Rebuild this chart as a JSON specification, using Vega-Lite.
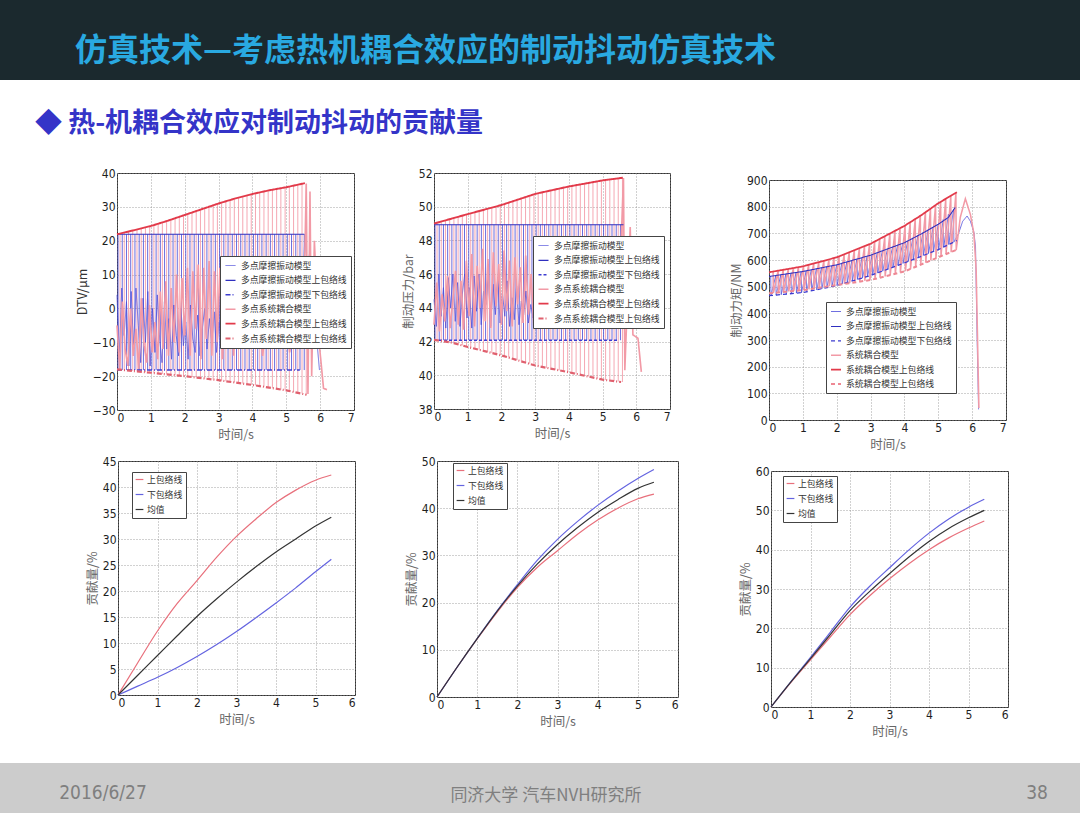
{
"$schema":"https://vega.github.io/schema/vega-lite/v6.json",
"padding":0,
"background":"white",
"bounds":"flush",
"spacing":93,
"resolve":{"scale":{"x":"independent","y":"independent","color":"independent","strokeDash":"independent","strokeWidth":"independent"},"axis":{"x":"independent","y":"independent"},"legend":{"color":"independent","strokeDash":"independent","strokeWidth":"independent"}},
"datasets":{
"s1b":[{"t":0.03,"v":-18.2,"h":21.9},{"t":0.155,"v":-18.2,"h":21.9},{"t":0.28,"v":-18.2,"h":21.9},{"t":0.405,"v":-18.2,"h":21.9},{"t":0.53,"v":-18.2,"h":21.9},{"t":0.655,"v":-18.2,"h":21.9},{"t":0.78,"v":-18.2,"h":21.9},{"t":0.905,"v":-18.2,"h":21.9},{"t":1.03,"v":-18.2,"h":21.9},{"t":1.155,"v":-18.2,"h":21.9},{"t":1.28,"v":-18.2,"h":21.9},{"t":1.405,"v":-18.2,"h":21.9},{"t":1.53,"v":-18.2,"h":21.9},{"t":1.655,"v":-18.2,"h":21.9},{"t":1.78,"v":-18.2,"h":21.9},{"t":1.905,"v":-18.2,"h":21.9},{"t":2.03,"v":-18.2,"h":21.9},{"t":2.155,"v":-18.2,"h":21.9},{"t":2.28,"v":-18.2,"h":21.9},{"t":2.405,"v":-18.2,"h":21.9},{"t":2.53,"v":-18.2,"h":21.9},{"t":2.655,"v":-18.2,"h":21.9},{"t":2.78,"v":-18.2,"h":21.9},{"t":2.905,"v":-18.2,"h":21.9},{"t":3.03,"v":-18.2,"h":21.9},{"t":3.155,"v":-18.2,"h":21.9},{"t":3.28,"v":-18.2,"h":21.9},{"t":3.405,"v":-18.2,"h":21.9},{"t":3.53,"v":-18.2,"h":21.9},{"t":3.655,"v":-18.2,"h":21.9},{"t":3.78,"v":-18.2,"h":21.9},{"t":3.905,"v":-18.2,"h":21.9},{"t":4.03,"v":-18.2,"h":21.9},{"t":4.155,"v":-18.2,"h":21.9},{"t":4.28,"v":-18.2,"h":21.9},{"t":4.405,"v":-18.2,"h":21.9},{"t":4.53,"v":-18.2,"h":21.9},{"t":4.655,"v":-18.2,"h":21.9},{"t":4.78,"v":-18.2,"h":21.9},{"t":4.905,"v":-18.2,"h":21.9},{"t":5.03,"v":-18.2,"h":21.9},{"t":5.155,"v":-18.2,"h":21.9},{"t":5.28,"v":-18.2,"h":21.9},{"t":5.405,"v":-18.2,"h":21.9},{"t":5.53,"v":-18.2,"h":21.9}],
"s1r":[{"t":0.09,"v":-18.09,"h":22.12},{"t":0.215,"v":-18.22,"h":22.43},{"t":0.34,"v":-18.34,"h":22.73},{"t":0.465,"v":-18.47,"h":23.04},{"t":0.59,"v":-18.59,"h":23.35},{"t":0.715,"v":-18.72,"h":23.65},{"t":0.84,"v":-18.84,"h":23.96},{"t":0.965,"v":-18.97,"h":24.26},{"t":1.09,"v":-19.09,"h":24.64},{"t":1.215,"v":-19.22,"h":25.05},{"t":1.34,"v":-19.34,"h":25.46},{"t":1.465,"v":-19.47,"h":25.86},{"t":1.59,"v":-19.59,"h":26.27},{"t":1.715,"v":-19.72,"h":26.67},{"t":1.84,"v":-19.84,"h":27.08},{"t":1.965,"v":-19.97,"h":27.49},{"t":2.09,"v":-20.11,"h":27.91},{"t":2.215,"v":-20.26,"h":28.33},{"t":2.34,"v":-20.41,"h":28.76},{"t":2.465,"v":-20.56,"h":29.18},{"t":2.59,"v":-20.71,"h":29.61},{"t":2.715,"v":-20.86,"h":30.03},{"t":2.84,"v":-21.01,"h":30.46},{"t":2.965,"v":-21.16,"h":30.88},{"t":3.09,"v":-21.33,"h":31.25},{"t":3.215,"v":-21.5,"h":31.6},{"t":3.34,"v":-21.68,"h":31.95},{"t":3.465,"v":-21.85,"h":32.3},{"t":3.59,"v":-22.03,"h":32.65},{"t":3.715,"v":-22.2,"h":33.0},{"t":3.84,"v":-22.38,"h":33.35},{"t":3.965,"v":-22.55,"h":33.7},{"t":4.09,"v":-22.74,"h":33.98},{"t":4.215,"v":-22.94,"h":34.23},{"t":4.34,"v":-23.14,"h":34.48},{"t":4.465,"v":-23.34,"h":34.73},{"t":4.59,"v":-23.54,"h":34.98},{"t":4.715,"v":-23.74,"h":35.23},{"t":4.84,"v":-23.94,"h":35.48},{"t":4.965,"v":-24.14,"h":35.73},{"t":5.09,"v":-24.38,"h":36.0},{"t":5.215,"v":-24.63,"h":36.27},{"t":5.34,"v":-24.88,"h":36.54},{"t":5.465,"v":-25.13,"h":36.81},{"t":5.59,"v":-25.3,"h":36.9}],
"l1":[
{"t":0,"v":4,"s":"b0"},{"t":0.07,"v":-15,"s":"b0"},{"t":0.14,"v":6,"s":"b0"},{"t":0.21,"v":-8,"s":"b0"},{"t":0.28,"v":2,"s":"b0"},{"t":0.35,"v":-17,"s":"b0"},{"t":0.42,"v":5,"s":"b0"},{"t":0.49,"v":-12,"s":"b0"},{"t":0.56,"v":6,"s":"b0"},{"t":0.63,"v":-5,"s":"b0"},{"t":0.7,"v":-16,"s":"b0"},{"t":0.77,"v":3,"s":"b0"},{"t":0.84,"v":-10,"s":"b0"},{"t":0.91,"v":5,"s":"b0"},{"t":0.98,"v":-17,"s":"b0"},{"t":1.05,"v":0,"s":"b0"},{"t":1.12,"v":-13,"s":"b0"},{"t":1.19,"v":4,"s":"b0"},{"t":1.26,"v":-9,"s":"b0"},{"t":1.33,"v":-16,"s":"b0"},{"t":1.4,"v":2,"s":"b0"},{"t":1.47,"v":-12,"s":"b0"},{"t":1.54,"v":-3,"s":"b0"},{"t":1.61,"v":-15,"s":"b0"},{"t":1.68,"v":1,"s":"b0"},{"t":1.75,"v":-8,"s":"b0"},{"t":1.82,"v":-14,"s":"b0"},{"t":1.89,"v":0,"s":"b0"},{"t":1.96,"v":-11,"s":"b0"},{"t":2.03,"v":-4,"s":"b0"},{"t":2.1,"v":-15,"s":"b0"},{"t":2.17,"v":1,"s":"b0"},{"t":2.24,"v":-9,"s":"b0"},{"t":2.31,"v":-13,"s":"b0"},{"t":2.38,"v":-2,"s":"b0"},{"t":2.45,"v":-14,"s":"b0"},{"t":2.52,"v":-6,"s":"b0"},{"t":2.59,"v":0,"s":"b0"},{"t":2.66,"v":-12,"s":"b0"},{"t":2.73,"v":-3,"s":"b0"},{"t":2.8,"v":-10,"s":"b0"},{"t":2.87,"v":-1,"s":"b0"},{"t":2.94,"v":-13,"s":"b0"},{"t":3.01,"v":-4,"s":"b0"},{"t":3.08,"v":-9,"s":"b0"},{"t":3.15,"v":-2,"s":"b0"},{"t":3.22,"v":-11,"s":"b0"},{"t":3.29,"v":-5,"s":"b0"},{"t":3.36,"v":-8,"s":"b0"},{"t":3.43,"v":-3,"s":"b0"},{"t":3.5,"v":-6,"s":"b0"},{"t":3.6,"v":-2,"s":"b0"},{"t":3.75,"v":-10,"s":"b0"},{"t":3.9,"v":0,"s":"b0"},{"t":4.1,"v":-8,"s":"b0"},{"t":4.3,"v":2,"s":"b0"},{"t":4.5,"v":-6,"s":"b0"},{"t":4.7,"v":-12,"s":"b0"},{"t":4.9,"v":0,"s":"b0"},{"t":5.1,"v":-9,"s":"b0"},{"t":5.3,"v":3,"s":"b0"},{"t":5.45,"v":-5,"s":"b0"},{"t":5.55,"v":21.9,"s":"b0"},{"t":5.62,"v":12,"s":"b0"},{"t":5.7,"v":17,"s":"b0"},{"t":5.8,"v":2,"s":"b0"},{"t":5.98,"v":-18.2,"s":"b0"},
{"t":0,"v":-5,"s":"r0"},{"t":0.08,"v":-18,"s":"r0"},{"t":0.16,"v":2,"s":"r0"},{"t":0.24,"v":-12,"s":"r0"},{"t":0.32,"v":-17,"s":"r0"},{"t":0.4,"v":0,"s":"r0"},{"t":0.48,"v":-14,"s":"r0"},{"t":0.56,"v":-6,"s":"r0"},{"t":0.64,"v":-18,"s":"r0"},{"t":0.72,"v":3,"s":"r0"},{"t":0.8,"v":-11,"s":"r0"},{"t":0.88,"v":-16,"s":"r0"},{"t":0.96,"v":1,"s":"r0"},{"t":1.04,"v":-13,"s":"r0"},{"t":1.12,"v":-4,"s":"r0"},{"t":1.2,"v":-15,"s":"r0"},{"t":1.28,"v":5,"s":"r0"},{"t":1.36,"v":-12,"s":"r0"},{"t":1.44,"v":8,"s":"r0"},{"t":1.52,"v":-14,"s":"r0"},{"t":1.6,"v":6,"s":"r0"},{"t":1.68,"v":-10,"s":"r0"},{"t":1.76,"v":10,"s":"r0"},{"t":1.84,"v":-13,"s":"r0"},{"t":1.92,"v":9,"s":"r0"},{"t":2.0,"v":-8,"s":"r0"},{"t":2.08,"v":12,"s":"r0"},{"t":2.16,"v":-14,"s":"r0"},{"t":2.24,"v":11,"s":"r0"},{"t":2.32,"v":-6,"s":"r0"},{"t":2.4,"v":13,"s":"r0"},{"t":2.48,"v":-15,"s":"r0"},{"t":2.56,"v":12,"s":"r0"},{"t":2.64,"v":-9,"s":"r0"},{"t":2.72,"v":14,"s":"r0"},{"t":2.8,"v":-14,"s":"r0"},{"t":2.88,"v":11,"s":"r0"},{"t":2.96,"v":-10,"s":"r0"},{"t":3.04,"v":12,"s":"r0"},{"t":3.12,"v":-15,"s":"r0"},{"t":3.2,"v":8,"s":"r0"},{"t":3.28,"v":-12,"s":"r0"},{"t":3.36,"v":6,"s":"r0"},{"t":3.44,"v":-14,"s":"r0"},{"t":3.52,"v":2,"s":"r0"},{"t":3.6,"v":-10,"s":"r0"},{"t":3.7,"v":4,"s":"r0"},{"t":3.9,"v":-12,"s":"r0"},{"t":4.1,"v":6,"s":"r0"},{"t":4.3,"v":-14,"s":"r0"},{"t":4.5,"v":3,"s":"r0"},{"t":4.7,"v":-10,"s":"r0"},{"t":4.9,"v":5,"s":"r0"},{"t":5.1,"v":-13,"s":"r0"},{"t":5.3,"v":2,"s":"r0"},{"t":5.5,"v":-8,"s":"r0"},{"t":5.59,"v":36.8,"s":"r0"},{"t":5.64,"v":-25.3,"s":"r0"},{"t":5.7,"v":34.5,"s":"r0"},{"t":5.75,"v":-20,"s":"r0"},{"t":5.83,"v":20,"s":"r0"},{"t":5.95,"v":-8,"s":"r0"},{"t":6.1,"v":-23.6,"s":"r0"},{"t":6.2,"v":-24,"s":"r0"},
{"t":0,"v":21.9,"s":"b1"},{"t":5.53,"v":21.9,"s":"b1"},
{"t":0,"v":-18.2,"s":"b2"},{"t":5.4,"v":-18.2,"s":"b2"},
{"t":0,"v":21.9,"s":"r1"},{"t":0.5,"v":23.1,"s":"r1"},{"t":1,"v":24.35,"s":"r1"},{"t":1.5,"v":25.9,"s":"r1"},{"t":2,"v":27.6,"s":"r1"},{"t":2.5,"v":29.3,"s":"r1"},{"t":3,"v":31,"s":"r1"},{"t":3.5,"v":32.5,"s":"r1"},{"t":4,"v":33.8,"s":"r1"},{"t":4.5,"v":34.9,"s":"r1"},{"t":5,"v":35.8,"s":"r1"},{"t":5.55,"v":37,"s":"r1"},
{"t":0,"v":-18,"s":"r2"},{"t":1,"v":-19,"s":"r2"},{"t":2,"v":-20,"s":"r2"},{"t":3,"v":-21.2,"s":"r2"},{"t":4,"v":-22.6,"s":"r2"},{"t":5,"v":-24.2,"s":"r2"},{"t":5.6,"v":-25.5,"s":"r2"}],
"s2b":[{"t":0.03,"v":42.08,"h":48.93},{"t":0.155,"v":42.08,"h":48.93},{"t":0.28,"v":42.08,"h":48.93},{"t":0.405,"v":42.08,"h":48.93},{"t":0.53,"v":42.08,"h":48.93},{"t":0.655,"v":42.08,"h":48.93},{"t":0.78,"v":42.08,"h":48.93},{"t":0.905,"v":42.08,"h":48.93},{"t":1.03,"v":42.08,"h":48.93},{"t":1.155,"v":42.08,"h":48.93},{"t":1.28,"v":42.08,"h":48.93},{"t":1.405,"v":42.08,"h":48.93},{"t":1.53,"v":42.08,"h":48.93},{"t":1.655,"v":42.08,"h":48.93},{"t":1.78,"v":42.08,"h":48.93},{"t":1.905,"v":42.08,"h":48.93},{"t":2.03,"v":42.08,"h":48.93},{"t":2.155,"v":42.08,"h":48.93},{"t":2.28,"v":42.08,"h":48.93},{"t":2.405,"v":42.08,"h":48.93},{"t":2.53,"v":42.08,"h":48.93},{"t":2.655,"v":42.08,"h":48.93},{"t":2.78,"v":42.08,"h":48.93},{"t":2.905,"v":42.08,"h":48.93},{"t":3.03,"v":42.08,"h":48.93},{"t":3.155,"v":42.08,"h":48.93},{"t":3.28,"v":42.08,"h":48.93},{"t":3.405,"v":42.08,"h":48.93},{"t":3.53,"v":42.08,"h":48.93},{"t":3.655,"v":42.08,"h":48.93},{"t":3.78,"v":42.08,"h":48.93},{"t":3.905,"v":42.08,"h":48.93},{"t":4.03,"v":42.08,"h":48.93},{"t":4.155,"v":42.08,"h":48.93},{"t":4.28,"v":42.08,"h":48.93},{"t":4.405,"v":42.08,"h":48.93},{"t":4.53,"v":42.08,"h":48.93},{"t":4.655,"v":42.08,"h":48.93},{"t":4.78,"v":42.08,"h":48.93},{"t":4.905,"v":42.08,"h":48.93},{"t":5.03,"v":42.08,"h":48.93},{"t":5.155,"v":42.08,"h":48.93},{"t":5.28,"v":42.08,"h":48.93},{"t":5.405,"v":42.08,"h":48.93},{"t":5.53,"v":42.08,"h":48.93}],
"s2r":[{"t":0.09,"v":42.07,"h":49.05},{"t":0.215,"v":42.04,"h":49.12},{"t":0.34,"v":42.0,"h":49.19},{"t":0.465,"v":41.96,"h":49.26},{"t":0.59,"v":41.9,"h":49.33},{"t":0.715,"v":41.83,"h":49.4},{"t":0.84,"v":41.77,"h":49.47},{"t":0.965,"v":41.7,"h":49.54},{"t":1.09,"v":41.64,"h":49.61},{"t":1.215,"v":41.57,"h":49.68},{"t":1.34,"v":41.51,"h":49.74},{"t":1.465,"v":41.45,"h":49.81},{"t":1.59,"v":41.39,"h":49.88},{"t":1.715,"v":41.32,"h":49.95},{"t":1.84,"v":41.26,"h":50.01},{"t":1.965,"v":41.2,"h":50.08},{"t":2.09,"v":41.13,"h":50.16},{"t":2.215,"v":41.05,"h":50.24},{"t":2.34,"v":40.98,"h":50.32},{"t":2.465,"v":40.9,"h":50.41},{"t":2.59,"v":40.83,"h":50.49},{"t":2.715,"v":40.75,"h":50.57},{"t":2.84,"v":40.68,"h":50.65},{"t":2.965,"v":40.6,"h":50.74},{"t":3.09,"v":40.54,"h":50.8},{"t":3.215,"v":40.49,"h":50.85},{"t":3.34,"v":40.44,"h":50.91},{"t":3.465,"v":40.39,"h":50.96},{"t":3.59,"v":40.34,"h":51.02},{"t":3.715,"v":40.29,"h":51.07},{"t":3.84,"v":40.24,"h":51.13},{"t":3.965,"v":40.19,"h":51.18},{"t":4.09,"v":40.14,"h":51.23},{"t":4.215,"v":40.09,"h":51.28},{"t":4.34,"v":40.03,"h":51.32},{"t":4.465,"v":39.98,"h":51.37},{"t":4.59,"v":39.92,"h":51.41},{"t":4.715,"v":39.87,"h":51.46},{"t":4.84,"v":39.81,"h":51.5},{"t":4.965,"v":39.76,"h":51.55},{"t":5.09,"v":39.72,"h":51.58},{"t":5.215,"v":39.69,"h":51.62},{"t":5.34,"v":39.66,"h":51.65},{"t":5.465,"v":39.63,"h":51.69},{"t":5.59,"v":39.6,"h":51.72}],
"l2":[
{"t":0,"v":44.5,"s":"b0"},{"t":0.07,"v":42.9,"s":"b0"},{"t":0.14,"v":46,"s":"b0"},{"t":0.21,"v":43.5,"s":"b0"},{"t":0.28,"v":45.2,"s":"b0"},{"t":0.35,"v":42.8,"s":"b0"},{"t":0.42,"v":45.8,"s":"b0"},{"t":0.49,"v":44,"s":"b0"},{"t":0.56,"v":46,"s":"b0"},{"t":0.63,"v":43.2,"s":"b0"},{"t":0.7,"v":45.5,"s":"b0"},{"t":0.77,"v":42.9,"s":"b0"},{"t":0.84,"v":44.8,"s":"b0"},{"t":0.91,"v":46,"s":"b0"},{"t":0.98,"v":43.4,"s":"b0"},{"t":1.05,"v":45.2,"s":"b0"},{"t":1.12,"v":42.8,"s":"b0"},{"t":1.19,"v":45.9,"s":"b0"},{"t":1.26,"v":43.8,"s":"b0"},{"t":1.33,"v":46,"s":"b0"},{"t":1.4,"v":43,"s":"b0"},{"t":1.47,"v":45,"s":"b0"},{"t":1.54,"v":44.2,"s":"b0"},{"t":1.61,"v":46,"s":"b0"},{"t":1.68,"v":42.9,"s":"b0"},{"t":1.75,"v":45.4,"s":"b0"},{"t":1.82,"v":43.6,"s":"b0"},{"t":1.89,"v":45.8,"s":"b0"},{"t":1.96,"v":43.1,"s":"b0"},{"t":2.03,"v":44.9,"s":"b0"},{"t":2.1,"v":43.5,"s":"b0"},{"t":2.17,"v":45.6,"s":"b0"},{"t":2.24,"v":42.9,"s":"b0"},{"t":2.31,"v":44.6,"s":"b0"},{"t":2.38,"v":43.3,"s":"b0"},{"t":2.45,"v":45.3,"s":"b0"},{"t":2.52,"v":43,"s":"b0"},{"t":2.59,"v":44.4,"s":"b0"},{"t":2.66,"v":43.6,"s":"b0"},{"t":2.73,"v":45,"s":"b0"},{"t":2.8,"v":43.1,"s":"b0"},{"t":2.87,"v":44.2,"s":"b0"},{"t":2.94,"v":43.4,"s":"b0"},{"t":3.0,"v":44,"s":"b0"},{"t":3.1,"v":43.5,"s":"b0"},{"t":3.3,"v":45,"s":"b0"},{"t":3.5,"v":43.2,"s":"b0"},{"t":3.8,"v":44.8,"s":"b0"},{"t":4.1,"v":43.4,"s":"b0"},{"t":4.4,"v":45.2,"s":"b0"},{"t":4.7,"v":43.1,"s":"b0"},{"t":5.0,"v":44.7,"s":"b0"},{"t":5.3,"v":43.5,"s":"b0"},{"t":5.5,"v":44.4,"s":"b0"},
{"t":0,"v":43,"s":"r0"},{"t":0.08,"v":45.5,"s":"r0"},{"t":0.16,"v":42.6,"s":"r0"},{"t":0.24,"v":44.8,"s":"r0"},{"t":0.32,"v":43.2,"s":"r0"},{"t":0.4,"v":45.9,"s":"r0"},{"t":0.48,"v":42.8,"s":"r0"},{"t":0.56,"v":44.5,"s":"r0"},{"t":0.64,"v":46.2,"s":"r0"},{"t":0.72,"v":43,"s":"r0"},{"t":0.8,"v":45.6,"s":"r0"},{"t":0.88,"v":42.7,"s":"r0"},{"t":0.96,"v":46.8,"s":"r0"},{"t":1.04,"v":43.5,"s":"r0"},{"t":1.12,"v":47.2,"s":"r0"},{"t":1.2,"v":42.9,"s":"r0"},{"t":1.28,"v":46.5,"s":"r0"},{"t":1.36,"v":44,"s":"r0"},{"t":1.44,"v":47.5,"s":"r0"},{"t":1.52,"v":43.2,"s":"r0"},{"t":1.6,"v":46.9,"s":"r0"},{"t":1.68,"v":42.8,"s":"r0"},{"t":1.76,"v":47.3,"s":"r0"},{"t":1.84,"v":44.1,"s":"r0"},{"t":1.92,"v":46.6,"s":"r0"},{"t":2.0,"v":43,"s":"r0"},{"t":2.08,"v":47.4,"s":"r0"},{"t":2.16,"v":43.8,"s":"r0"},{"t":2.24,"v":46.8,"s":"r0"},{"t":2.32,"v":42.9,"s":"r0"},{"t":2.4,"v":47,"s":"r0"},{"t":2.48,"v":44.2,"s":"r0"},{"t":2.56,"v":46.4,"s":"r0"},{"t":2.64,"v":43.1,"s":"r0"},{"t":2.72,"v":47.1,"s":"r0"},{"t":2.8,"v":43.6,"s":"r0"},{"t":2.88,"v":46,"s":"r0"},{"t":2.96,"v":42.9,"s":"r0"},{"t":3.04,"v":45.5,"s":"r0"},{"t":3.12,"v":43.5,"s":"r0"},{"t":3.2,"v":44.6,"s":"r0"},{"t":3.4,"v":43.2,"s":"r0"},{"t":3.7,"v":45.8,"s":"r0"},{"t":4.0,"v":43.4,"s":"r0"},{"t":4.3,"v":46,"s":"r0"},{"t":4.6,"v":43.1,"s":"r0"},{"t":4.9,"v":45.4,"s":"r0"},{"t":5.2,"v":42.9,"s":"r0"},{"t":5.5,"v":45.1,"s":"r0"},{"t":5.62,"v":51.7,"s":"r0"},{"t":5.66,"v":40.3,"s":"r0"},{"t":5.82,"v":48.8,"s":"r0"},{"t":5.9,"v":42.4,"s":"r0"},{"t":6.05,"v":42.2,"s":"r0"},{"t":6.15,"v":40.2,"s":"r0"},
{"t":0,"v":48.93,"s":"b1"},{"t":5.62,"v":48.93,"s":"b1"},
{"t":0,"v":42.08,"s":"b2"},{"t":5.47,"v":42.08,"s":"b2"},
{"t":0,"v":49.0,"s":"r1"},{"t":0.5,"v":49.28,"s":"r1"},{"t":1,"v":49.56,"s":"r1"},{"t":1.5,"v":49.83,"s":"r1"},{"t":2,"v":50.1,"s":"r1"},{"t":2.5,"v":50.43,"s":"r1"},{"t":3,"v":50.76,"s":"r1"},{"t":3.5,"v":50.98,"s":"r1"},{"t":4,"v":51.2,"s":"r1"},{"t":4.5,"v":51.38,"s":"r1"},{"t":5,"v":51.56,"s":"r1"},{"t":5.6,"v":51.72,"s":"r1"},
{"t":0,"v":42.1,"s":"r2"},{"t":0.5,"v":41.95,"s":"r2"},{"t":1,"v":41.68,"s":"r2"},{"t":1.5,"v":41.43,"s":"r2"},{"t":2,"v":41.18,"s":"r2"},{"t":2.5,"v":40.88,"s":"r2"},{"t":3,"v":40.58,"s":"r2"},{"t":3.5,"v":40.38,"s":"r2"},{"t":4,"v":40.18,"s":"r2"},{"t":4.5,"v":39.96,"s":"r2"},{"t":5,"v":39.74,"s":"r2"},{"t":5.55,"v":39.6,"s":"r2"}],
"l3":[
{"t":0.05,"v":539,"s":"b0"},{"t":0.06,"v":467,"s":"b0"},{"t":0.2,"v":542,"s":"b0"},{"t":0.21,"v":468,"s":"b0"},{"t":0.35,"v":545,"s":"b0"},{"t":0.36,"v":470,"s":"b0"},{"t":0.5,"v":548,"s":"b0"},{"t":0.51,"v":472,"s":"b0"},{"t":0.65,"v":550,"s":"b0"},{"t":0.66,"v":474,"s":"b0"},{"t":0.8,"v":553,"s":"b0"},{"t":0.81,"v":476,"s":"b0"},{"t":0.95,"v":556,"s":"b0"},{"t":0.96,"v":477,"s":"b0"},{"t":1.1,"v":560,"s":"b0"},{"t":1.11,"v":481,"s":"b0"},{"t":1.25,"v":563,"s":"b0"},{"t":1.26,"v":484,"s":"b0"},{"t":1.4,"v":567,"s":"b0"},{"t":1.41,"v":488,"s":"b0"},{"t":1.55,"v":571,"s":"b0"},{"t":1.56,"v":492,"s":"b0"},{"t":1.7,"v":575,"s":"b0"},{"t":1.71,"v":496,"s":"b0"},{"t":1.85,"v":578,"s":"b0"},{"t":1.86,"v":500,"s":"b0"},{"t":2.0,"v":582,"s":"b0"},{"t":2.01,"v":504,"s":"b0"},{"t":2.15,"v":587,"s":"b0"},{"t":2.16,"v":510,"s":"b0"},{"t":2.3,"v":593,"s":"b0"},{"t":2.31,"v":515,"s":"b0"},{"t":2.45,"v":598,"s":"b0"},{"t":2.46,"v":521,"s":"b0"},{"t":2.6,"v":604,"s":"b0"},{"t":2.61,"v":527,"s":"b0"},{"t":2.75,"v":609,"s":"b0"},{"t":2.76,"v":532,"s":"b0"},{"t":2.9,"v":614,"s":"b0"},{"t":2.91,"v":538,"s":"b0"},{"t":3.05,"v":620,"s":"b0"},{"t":3.06,"v":544,"s":"b0"},{"t":3.2,"v":627,"s":"b0"},{"t":3.21,"v":551,"s":"b0"},{"t":3.35,"v":634,"s":"b0"},{"t":3.36,"v":558,"s":"b0"},{"t":3.5,"v":642,"s":"b0"},{"t":3.51,"v":566,"s":"b0"},{"t":3.65,"v":649,"s":"b0"},{"t":3.66,"v":573,"s":"b0"},{"t":3.8,"v":656,"s":"b0"},{"t":3.81,"v":580,"s":"b0"},{"t":3.95,"v":663,"s":"b0"},{"t":3.96,"v":587,"s":"b0"},{"t":4.1,"v":672,"s":"b0"},{"t":4.11,"v":594,"s":"b0"},{"t":4.25,"v":682,"s":"b0"},{"t":4.26,"v":601,"s":"b0"},{"t":4.4,"v":693,"s":"b0"},{"t":4.41,"v":609,"s":"b0"},{"t":4.55,"v":703,"s":"b0"},{"t":4.56,"v":617,"s":"b0"},{"t":4.7,"v":713,"s":"b0"},{"t":4.71,"v":624,"s":"b0"},{"t":4.85,"v":724,"s":"b0"},{"t":4.86,"v":632,"s":"b0"},{"t":5.0,"v":734,"s":"b0"},{"t":5.01,"v":639,"s":"b0"},{"t":5.15,"v":753,"s":"b0"},{"t":5.16,"v":648,"s":"b0"},{"t":5.3,"v":772,"s":"b0"},{"t":5.31,"v":658,"s":"b0"},{"t":5.45,"v":791,"s":"b0"},{"t":5.46,"v":667,"s":"b0"},{"t":5.6,"v":700,"s":"b0"},{"t":5.72,"v":745,"s":"b0"},{"t":5.85,"v":765,"s":"b0"},{"t":5.95,"v":745,"s":"b0"},{"t":6.05,"v":705,"s":"b0"},{"t":6.1,"v":650,"s":"b0"},{"t":6.14,"v":350,"s":"b0"},{"t":6.19,"v":40,"s":"b0"},
{"t":0.12,"v":557,"s":"r0"},{"t":0.13,"v":476,"s":"r0"},{"t":0.27,"v":560,"s":"r0"},{"t":0.28,"v":478,"s":"r0"},{"t":0.42,"v":563,"s":"r0"},{"t":0.43,"v":480,"s":"r0"},{"t":0.57,"v":567,"s":"r0"},{"t":0.58,"v":482,"s":"r0"},{"t":0.72,"v":570,"s":"r0"},{"t":0.73,"v":484,"s":"r0"},{"t":0.87,"v":573,"s":"r0"},{"t":0.88,"v":485,"s":"r0"},{"t":1.02,"v":577,"s":"r0"},{"t":1.03,"v":487,"s":"r0"},{"t":1.17,"v":582,"s":"r0"},{"t":1.18,"v":490,"s":"r0"},{"t":1.32,"v":587,"s":"r0"},{"t":1.33,"v":493,"s":"r0"},{"t":1.47,"v":592,"s":"r0"},{"t":1.48,"v":496,"s":"r0"},{"t":1.62,"v":597,"s":"r0"},{"t":1.63,"v":499,"s":"r0"},{"t":1.77,"v":602,"s":"r0"},{"t":1.78,"v":502,"s":"r0"},{"t":1.92,"v":607,"s":"r0"},{"t":1.93,"v":505,"s":"r0"},{"t":2.07,"v":614,"s":"r0"},{"t":2.08,"v":507,"s":"r0"},{"t":2.22,"v":621,"s":"r0"},{"t":2.23,"v":510,"s":"r0"},{"t":2.37,"v":629,"s":"r0"},{"t":2.38,"v":513,"s":"r0"},{"t":2.52,"v":637,"s":"r0"},{"t":2.53,"v":516,"s":"r0"},{"t":2.67,"v":644,"s":"r0"},{"t":2.68,"v":519,"s":"r0"},{"t":2.82,"v":652,"s":"r0"},{"t":2.83,"v":522,"s":"r0"},{"t":2.97,"v":659,"s":"r0"},{"t":2.98,"v":524,"s":"r0"},{"t":3.12,"v":669,"s":"r0"},{"t":3.13,"v":529,"s":"r0"},{"t":3.27,"v":679,"s":"r0"},{"t":3.28,"v":534,"s":"r0"},{"t":3.42,"v":689,"s":"r0"},{"t":3.43,"v":538,"s":"r0"},{"t":3.57,"v":699,"s":"r0"},{"t":3.58,"v":543,"s":"r0"},{"t":3.72,"v":709,"s":"r0"},{"t":3.73,"v":548,"s":"r0"},{"t":3.87,"v":719,"s":"r0"},{"t":3.88,"v":553,"s":"r0"},{"t":4.02,"v":730,"s":"r0"},{"t":4.03,"v":558,"s":"r0"},{"t":4.17,"v":742,"s":"r0"},{"t":4.18,"v":566,"s":"r0"},{"t":4.32,"v":755,"s":"r0"},{"t":4.33,"v":574,"s":"r0"},{"t":4.47,"v":768,"s":"r0"},{"t":4.48,"v":582,"s":"r0"},{"t":4.62,"v":781,"s":"r0"},{"t":4.63,"v":590,"s":"r0"},{"t":4.77,"v":794,"s":"r0"},{"t":4.78,"v":598,"s":"r0"},{"t":4.92,"v":806,"s":"r0"},{"t":4.93,"v":606,"s":"r0"},{"t":5.07,"v":818,"s":"r0"},{"t":5.08,"v":614,"s":"r0"},{"t":5.22,"v":829,"s":"r0"},{"t":5.23,"v":622,"s":"r0"},{"t":5.37,"v":840,"s":"r0"},{"t":5.38,"v":629,"s":"r0"},{"t":5.52,"v":851,"s":"r0"},{"t":5.53,"v":637,"s":"r0"},{"t":5.65,"v":760,"s":"r0"},{"t":5.8,"v":830,"s":"r0"},{"t":5.95,"v":770,"s":"r0"},{"t":6.05,"v":700,"s":"r0"},{"t":6.12,"v":560,"s":"r0"},{"t":6.2,"v":45,"s":"r0"},
{"t":0,"v":538,"s":"b1"},{"t":1,"v":557,"s":"b1"},{"t":2,"v":582,"s":"b1"},{"t":3,"v":618,"s":"b1"},{"t":4,"v":665,"s":"b1"},{"t":4.5,"v":698,"s":"b1"},{"t":5,"v":734,"s":"b1"},{"t":5.3,"v":760,"s":"b1"},{"t":5.5,"v":797,"s":"b1"},
{"t":0,"v":466,"s":"b2"},{"t":1,"v":478,"s":"b2"},{"t":2,"v":504,"s":"b2"},{"t":3,"v":542,"s":"b2"},{"t":4,"v":589,"s":"b2"},{"t":5,"v":639,"s":"b2"},{"t":5.55,"v":673,"s":"b2"},
{"t":0,"v":554,"s":"r1"},{"t":1,"v":576,"s":"r1"},{"t":2,"v":610,"s":"r1"},{"t":3,"v":661,"s":"r1"},{"t":4,"v":728,"s":"r1"},{"t":4.5,"v":768,"s":"r1"},{"t":5,"v":813,"s":"r1"},{"t":5.55,"v":854,"s":"r1"},
{"t":0,"v":475,"s":"r2"},{"t":1,"v":487,"s":"r2"},{"t":2,"v":506,"s":"r2"},{"t":3,"v":525,"s":"r2"},{"t":4,"v":557,"s":"r2"},{"t":5,"v":610,"s":"r2"},{"t":5.55,"v":639,"s":"r2"}],
"d4":[
{"t":0,"v":0,"k":"上包络线"},{"t":0.5,"v":6.2,"k":"上包络线"},{"t":1,"v":12.3,"k":"上包络线"},{"t":1.5,"v":17.6,"k":"上包络线"},{"t":2,"v":22.0,"k":"上包络线"},{"t":2.5,"v":26.5,"k":"上包络线"},{"t":3,"v":30.5,"k":"上包络线"},{"t":3.5,"v":33.9,"k":"上包络线"},{"t":4,"v":37.0,"k":"上包络线"},{"t":4.5,"v":39.4,"k":"上包络线"},{"t":5,"v":41.3,"k":"上包络线"},{"t":5.4,"v":42.3,"k":"上包络线"},
{"t":0,"v":0,"k":"下包络线"},{"t":0.5,"v":1.7,"k":"下包络线"},{"t":1,"v":3.4,"k":"下包络线"},{"t":1.5,"v":5.3,"k":"下包络线"},{"t":2,"v":7.4,"k":"下包络线"},{"t":2.5,"v":9.7,"k":"下包络线"},{"t":3,"v":12.2,"k":"下包络线"},{"t":3.5,"v":14.9,"k":"下包络线"},{"t":4,"v":17.7,"k":"下包络线"},{"t":4.5,"v":20.6,"k":"下包络线"},{"t":5,"v":23.7,"k":"下包络线"},{"t":5.4,"v":26.1,"k":"下包络线"},
{"t":0,"v":0,"k":"均值"},{"t":0.5,"v":3.8,"k":"均值"},{"t":1,"v":7.6,"k":"均值"},{"t":1.5,"v":11.4,"k":"均值"},{"t":2,"v":15.1,"k":"均值"},{"t":2.5,"v":18.5,"k":"均值"},{"t":3,"v":21.7,"k":"均值"},{"t":3.5,"v":24.7,"k":"均值"},{"t":4,"v":27.5,"k":"均值"},{"t":4.5,"v":30.0,"k":"均值"},{"t":5,"v":32.5,"k":"均值"},{"t":5.4,"v":34.2,"k":"均值"}],
"d5":[
{"t":0,"v":0,"k":"上包络线"},{"t":0.5,"v":6.3,"k":"上包络线"},{"t":1,"v":12.3,"k":"上包络线"},{"t":1.5,"v":18.0,"k":"上包络线"},{"t":2,"v":23.2,"k":"上包络线"},{"t":2.5,"v":27.5,"k":"上包络线"},{"t":3,"v":31.0,"k":"上包络线"},{"t":3.5,"v":34.5,"k":"上包络线"},{"t":4,"v":37.5,"k":"上包络线"},{"t":4.5,"v":40.0,"k":"上包络线"},{"t":5,"v":42.0,"k":"上包络线"},{"t":5.4,"v":43.0,"k":"上包络线"},
{"t":0,"v":0,"k":"下包络线"},{"t":0.5,"v":6.3,"k":"下包络线"},{"t":1,"v":12.4,"k":"下包络线"},{"t":1.5,"v":18.3,"k":"下包络线"},{"t":2,"v":23.8,"k":"下包络线"},{"t":2.5,"v":29.0,"k":"下包络线"},{"t":3,"v":33.4,"k":"下包络线"},{"t":3.5,"v":37.2,"k":"下包络线"},{"t":4,"v":40.6,"k":"下包络线"},{"t":4.5,"v":43.6,"k":"下包络线"},{"t":5,"v":46.3,"k":"下包络线"},{"t":5.4,"v":48.2,"k":"下包络线"},
{"t":0,"v":0,"k":"均值"},{"t":0.5,"v":6.3,"k":"均值"},{"t":1,"v":12.35,"k":"均值"},{"t":1.5,"v":18.2,"k":"均值"},{"t":2,"v":23.5,"k":"均值"},{"t":2.5,"v":28.2,"k":"均值"},{"t":3,"v":32.3,"k":"均值"},{"t":3.5,"v":35.9,"k":"均值"},{"t":4,"v":39.1,"k":"均值"},{"t":4.5,"v":41.8,"k":"均值"},{"t":5,"v":44.2,"k":"均值"},{"t":5.4,"v":45.5,"k":"均值"}],
"d6":[
{"t":0,"v":0,"k":"上包络线"},{"t":0.5,"v":6.2,"k":"上包络线"},{"t":1,"v":12.0,"k":"上包络线"},{"t":1.5,"v":17.8,"k":"上包络线"},{"t":2,"v":23.5,"k":"上包络线"},{"t":2.5,"v":28.3,"k":"上包络线"},{"t":3,"v":32.6,"k":"上包络线"},{"t":3.5,"v":36.5,"k":"上包络线"},{"t":4,"v":40.0,"k":"上包络线"},{"t":4.5,"v":43.0,"k":"上包络线"},{"t":5,"v":45.5,"k":"上包络线"},{"t":5.4,"v":47.3,"k":"上包络线"},
{"t":0,"v":0,"k":"下包络线"},{"t":0.5,"v":6.4,"k":"下包络线"},{"t":1,"v":12.6,"k":"下包络线"},{"t":1.5,"v":19.0,"k":"下包络线"},{"t":2,"v":25.4,"k":"下包络线"},{"t":2.5,"v":30.7,"k":"下包络线"},{"t":3,"v":35.4,"k":"下包络线"},{"t":3.5,"v":40.0,"k":"下包络线"},{"t":4,"v":44.2,"k":"下包络线"},{"t":4.5,"v":47.8,"k":"下包络线"},{"t":5,"v":50.8,"k":"下包络线"},{"t":5.4,"v":52.8,"k":"下包络线"},
{"t":0,"v":0,"k":"均值"},{"t":0.5,"v":6.3,"k":"均值"},{"t":1,"v":12.3,"k":"均值"},{"t":1.5,"v":18.4,"k":"均值"},{"t":2,"v":24.5,"k":"均值"},{"t":2.5,"v":29.4,"k":"均值"},{"t":3,"v":33.9,"k":"均值"},{"t":3.5,"v":38.2,"k":"均值"},{"t":4,"v":42.1,"k":"均值"},{"t":4.5,"v":45.4,"k":"均值"},{"t":5,"v":48.1,"k":"均值"},{"t":5.4,"v":50.0,"k":"均值"}]
},
"vconcat":[
 {"width":1080,"height":80,"data":{"values":[]},"mark":"point","view":{"fill":"#1b292e","stroke":null},
  "title":{"text":"仿真技术—考虑热机耦合效应的制动抖动仿真技术","orient":"top","anchor":"start","frame":"group","dx":75,"offset":-93,"baseline":"alphabetic","font":"Noto Sans CJK SC","fontSize":32,"fontWeight":"bold","color":"#29a9e1"}},
 {"bounds":"flush","spacing":288,"resolve":{"scale":{"x":"independent","y":"independent","color":"independent","strokeDash":"independent","strokeWidth":"independent"},"axis":{"x":"independent","y":"independent"},"legend":{"color":"independent","strokeDash":"independent","strokeWidth":"independent"}},
  "vconcat":[
   {"bounds":"flush","spacing":80,"resolve":{"scale":{"x":"independent","y":"independent","color":"independent","strokeDash":"independent","strokeWidth":"independent"},"axis":{"x":"independent","y":"independent"},"legend":{"color":"independent","strokeDash":"independent","strokeWidth":"independent"}},
    "title":{"text":"◆ 热-机耦合效应对制动抖动的贡献量","orient":"top","anchor":"start","frame":"group","dx":35,"offset":8,"baseline":"alphabetic","font":"Noto Sans CJK SC","fontSize":27,"fontWeight":"bold","color":"#3434c8"},
    "hconcat":[
     {"width":37,"height":1,"data":{"values":[]},"mark":"point","view":{"stroke":null}},
     {"width":237,"height":237,
      "encoding":{"x":{"field":"t","type":"quantitative","scale":{"domain":[0,7],"nice":false},"axis":{"title":"时间/s","values":[0,1,2,3,4,5,6,7]}},
                  "y":{"field":"v","type":"quantitative","scale":{"domain":[-30,40],"nice":false,"zero":false},"axis":{"title":"DTV/μm","titleColor":"#333","values":[-30,-20,-10,0,10,20,30,40]}}},
      "layer":[
       {"data":{"name":"s1r"},"mark":{"type":"rule","color":"#f07e8e","strokeWidth":0.8,"opacity":0.85},"encoding":{"y2":{"field":"h"}}},
       {"data":{"name":"s1b"},"mark":{"type":"rule","color":"#4646d4","strokeWidth":0.9,"opacity":0.9},"encoding":{"y2":{"field":"h"}}},
       {"data":{"name":"l1"},"mark":{"type":"line"},
        "encoding":{"color":{"field":"s","type":"nominal","scale":{"domain":["b0","b1","b2","r0","r1","r2"],"range":["#4a4ad8","#2f2fbf","#3c3cd0","#f29aa6","#e23a4a","#e0606e"]},
                    "legend":{"title":null,"orient":"none","legendX":103,"legendY":83,"labelExpr":"datum.value=='b0'?'多点摩擦振动模型':datum.value=='b1'?'多点摩擦振动模型上包络线':datum.value=='b2'?'多点摩擦振动模型下包络线':datum.value=='r0'?'多点系统耦合模型':'多点系统耦合模型上包络线'"}},
                    "strokeDash":{"field":"s","type":"nominal","scale":{"domain":["b0","b1","b2","r0","r1","r2"],"range":[[1,0],[1,0],[5,2,1,2],[1,0],[1,0],[5,2,1,2]]}},
                    "strokeWidth":{"field":"s","type":"nominal","scale":{"domain":["b0","b1","b2","r0","r1","r2"],"range":[0.8,2.2,1.2,0.8,2.2,1]}}}}
      ]},
     {"bounds":"flush","spacing":99,"resolve":{"scale":{"x":"independent","y":"independent","color":"independent","strokeDash":"independent","strokeWidth":"independent"},"axis":{"x":"independent","y":"independent"},"legend":{"color":"independent","strokeDash":"independent","strokeWidth":"independent"}},
      "hconcat":[
       {"width":236,"height":236,
        "encoding":{"x":{"field":"t","type":"quantitative","scale":{"domain":[0,7],"nice":false},"axis":{"title":"时间/s","values":[0,1,2,3,4,5,6,7]}},
                    "y":{"field":"v","type":"quantitative","scale":{"domain":[38,52],"nice":false,"zero":false},"axis":{"title":"制动压力/bar","values":[38,40,42,44,46,48,50,52]}}},
        "layer":[
         {"data":{"name":"s2r"},"mark":{"type":"rule","color":"#f07e8e","strokeWidth":0.8,"opacity":0.85},"encoding":{"y2":{"field":"h"}}},
         {"data":{"name":"s2b"},"mark":{"type":"rule","color":"#4646d4","strokeWidth":0.9,"opacity":0.9},"encoding":{"y2":{"field":"h"}}},
         {"data":{"name":"l2"},"mark":{"type":"line"},
          "encoding":{"color":{"field":"s","type":"nominal","scale":{"domain":["b0","b1","b2","r0","r1","r2"],"range":["#4a4ad8","#2f2fbf","#3c3cd0","#f29aa6","#e23a4a","#e0606e"]},
                      "legend":{"title":null,"orient":"none","legendX":99,"legendY":63,"labelExpr":"datum.value=='b0'?'多点摩擦振动模型':datum.value=='b1'?'多点摩擦振动模型上包络线':datum.value=='b2'?'多点摩擦振动模型下包络线':datum.value=='r0'?'多点系统耦合模型':'多点系统耦合模型上包络线'"}},
                      "strokeDash":{"field":"s","type":"nominal","scale":{"domain":["b0","b1","b2","r0","r1","r2"],"range":[[1,0],[1,0],[3,2],[1,0],[1,0],[5,2,1,2]]}},
                      "strokeWidth":{"field":"s","type":"nominal","scale":{"domain":["b0","b1","b2","r0","r1","r2"],"range":[0.8,2.2,1.4,0.8,2.2,1]}}}}
        ]},
       {"bounds":"flush","spacing":6,"resolve":{"scale":{"x":"independent","y":"independent","color":"independent","strokeDash":"independent","strokeWidth":"independent"},"axis":{"x":"independent","y":"independent"},"legend":{"color":"independent","strokeDash":"independent","strokeWidth":"independent"}},
        "vconcat":[
         {"width":237,"height":1,"data":{"values":[]},"mark":"point","view":{"stroke":null}},
         {"width":237,"height":240,
          "encoding":{"x":{"field":"t","type":"quantitative","scale":{"domain":[0,7],"nice":false},"axis":{"title":"时间/s","values":[0,1,2,3,4,5,6,7]}},
                      "y":{"field":"v","type":"quantitative","scale":{"domain":[0,900],"nice":false},"axis":{"title":"制动力矩/NM","values":[0,100,200,300,400,500,600,700,800,900]}}},
          "layer":[
           {"data":{"name":"l3"},"mark":{"type":"line"},
            "encoding":{"color":{"field":"s","type":"nominal","scale":{"domain":["b0","b1","b2","r0","r1","r2"],"range":["#4a4ad8","#2f2fbf","#3c3cd0","#f29aa6","#e23a4a","#ee8894"]},
                        "legend":{"title":null,"orient":"none","legendX":57,"legendY":122,"labelExpr":"datum.value=='b0'?'多点摩擦振动模型':datum.value=='b1'?'多点摩擦振动模型上包络线':datum.value=='b2'?'多点摩擦振动模型下包络线':datum.value=='r0'?'系统耦合模型':'系统耦合模型上包络线'"}},
                        "strokeDash":{"field":"s","type":"nominal","scale":{"domain":["b0","b1","b2","r0","r1","r2"],"range":[[1,0],[1,0],[4,3],[1,0],[1,0],[4,3]]}},
                        "strokeWidth":{"field":"s","type":"nominal","scale":{"domain":["b0","b1","b2","r0","r1","r2"],"range":[0.8,2,1.2,0.8,2,1]}}}}
          ]}
        ]}
      ]}
    ]},
   {"bounds":"flush","spacing":302,"resolve":{"scale":{"x":"independent","y":"independent","color":"independent","strokeDash":"independent","strokeWidth":"independent"},"axis":{"x":"independent","y":"independent"},"legend":{"color":"independent","strokeDash":"independent","strokeWidth":"independent"}},
    "vconcat":[
     {"bounds":"flush","spacing":82,"resolve":{"scale":{"x":"independent","y":"independent","color":"independent","strokeDash":"independent","strokeWidth":"independent"},"axis":{"x":"independent","y":"independent"},"legend":{"color":"independent","strokeDash":"independent","strokeWidth":"independent"}},
      "hconcat":[
       {"width":36,"height":1,"data":{"values":[]},"mark":"point","view":{"stroke":null}},
       {"width":237,"height":234,"data":{"name":"d4"},"mark":{"type":"line","strokeWidth":1.2,"interpolate":"monotone"},
        "encoding":{"x":{"field":"t","type":"quantitative","scale":{"domain":[0,6],"nice":false},"axis":{"title":"时间/s","values":[0,1,2,3,4,5,6]}},
                    "y":{"field":"v","type":"quantitative","scale":{"domain":[0,45],"nice":false},"axis":{"title":"贡献量/%","values":[0,5,10,15,20,25,30,35,40,45]}},
                    "color":{"field":"k","type":"nominal","scale":{"domain":["上包络线","下包络线","均值"],"range":["#e8707c","#6464e0","#333333"]},"legend":{"title":null,"orient":"none","legendX":14,"legendY":11,"symbolStrokeWidth":1.2,"symbolSize":60,"labelOffset":3,"padding":3,"rowPadding":5}}}},
       {"bounds":"flush","spacing":93,"resolve":{"scale":{"x":"independent","y":"independent","color":"independent","strokeDash":"independent","strokeWidth":"independent"},"axis":{"x":"independent","y":"independent"},"legend":{"color":"independent","strokeDash":"independent","strokeWidth":"independent"}},
        "hconcat":[
         {"width":241,"height":236,"data":{"name":"d5"},"mark":{"type":"line","strokeWidth":1.2,"interpolate":"monotone"},
          "encoding":{"x":{"field":"t","type":"quantitative","scale":{"domain":[0,6],"nice":false},"axis":{"title":"时间/s","values":[0,1,2,3,4,5,6]}},
                      "y":{"field":"v","type":"quantitative","scale":{"domain":[0,50],"nice":false},"axis":{"title":"贡献量/%","values":[0,10,20,30,40,50]}},
                      "color":{"field":"k","type":"nominal","scale":{"domain":["上包络线","下包络线","均值"],"range":["#e8707c","#6464e0","#333333"]},"legend":{"title":null,"orient":"none","legendX":16,"legendY":2,"symbolStrokeWidth":1.2,"symbolSize":60,"labelOffset":3,"padding":3,"rowPadding":5}}}},
         {"bounds":"flush","spacing":9,"resolve":{"scale":{"x":"independent","y":"independent","color":"independent","strokeDash":"independent","strokeWidth":"independent"},"axis":{"x":"independent","y":"independent"},"legend":{"color":"independent","strokeDash":"independent","strokeWidth":"independent"}},
          "vconcat":[
           {"width":237,"height":1,"data":{"values":[]},"mark":"point","view":{"stroke":null}},
           {"width":237,"height":236,"data":{"name":"d6"},"mark":{"type":"line","strokeWidth":1.2,"interpolate":"monotone"},
            "encoding":{"x":{"field":"t","type":"quantitative","scale":{"domain":[0,6],"nice":false},"axis":{"title":"时间/s","values":[0,1,2,3,4,5,6]}},
                        "y":{"field":"v","type":"quantitative","scale":{"domain":[0,60],"nice":false},"axis":{"title":"贡献量/%","values":[0,10,20,30,40,50,60]}},
                        "color":{"field":"k","type":"nominal","scale":{"domain":["上包络线","下包络线","均值"],"range":["#e8707c","#6464e0","#333333"]},"legend":{"title":null,"orient":"none","legendX":12,"legendY":5,"symbolStrokeWidth":1.2,"symbolSize":60,"labelOffset":3,"padding":3,"rowPadding":5}}}}
          ]}
        ]}
      ]},
     {"bounds":"flush","spacing":0,
      "hconcat":[
       {"width":206,"height":50,"data":{"values":[]},"mark":"point","view":{"fill":"#cccccc","stroke":null},
        "title":{"text":"2016/6/27","orient":"top","anchor":"middle","frame":"group","offset":-55,"baseline":"alphabetic","font":"Liberation Sans Narrow, DejaVu Sans Condensed, Noto Sans","fontSize":19,"fontWeight":"normal","color":"#7f7f7f"}},
       {"width":680,"height":50,"data":{"values":[]},"mark":"point","view":{"fill":"#cccccc","stroke":null},
        "title":{"text":"同济大学  汽车NVH研究所","orient":"top","anchor":"middle","frame":"group","offset":-55,"baseline":"alphabetic","font":"Noto Sans CJK SC","fontSize":17,"fontWeight":"normal","color":"#7f7f7f"}},
       {"width":194,"height":50,"data":{"values":[]},"mark":"point","view":{"fill":"#cccccc","stroke":null},
        "title":{"text":"38","orient":"top","anchor":"end","frame":"group","dx":-32,"offset":-55,"baseline":"alphabetic","font":"Liberation Sans Narrow, DejaVu Sans Condensed, Noto Sans","fontSize":19,"fontWeight":"normal","color":"#7f7f7f"}}
      ]}
    ]}
  ]}
],
"config":{
 "view":{"stroke":"#333333","strokeWidth":1},
 "axis":{"labelFont":"Liberation Sans Narrow, DejaVu Sans Condensed, Liberation Sans, sans-serif","labelFontSize":12,"labelColor":"#1e1e1e","titleFont":"Noto Sans CJK SC","titleFontSize":12.5,"titleFontWeight":"normal","titleColor":"#666666","gridColor":"#8a8a8a","gridDash":[1,2],"gridWidth":0.8,"domain":false,"ticks":false,"labelPadding":2,"titlePadding":3},
 "axisX":{"titlePadding":5},
 "legend":{"fillColor":"white","strokeColor":"#444444","padding":4,"labelFont":"Noto Sans CJK SC","labelFontSize":8.8,"labelColor":"#333333","symbolType":"stroke","symbolSize":100,"rowPadding":3.4,"labelOffset":4}
}
}
